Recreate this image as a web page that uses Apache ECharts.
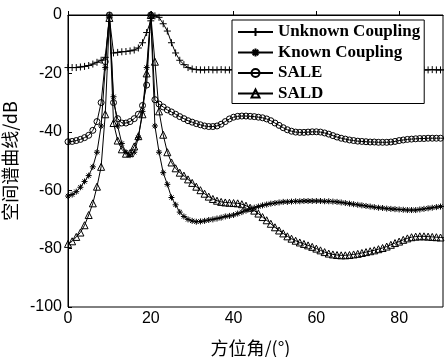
<!DOCTYPE html>
<html lang="zh">
<head>
  <meta charset="UTF-8">
  <title>空间谱曲线</title>
  <style>
    html, body { margin: 0; padding: 0; background: #fff; }
  </style>
</head>
<body>
  <div id="main" style="width: 446px; height: 357px"></div>
  <script src="https://cdn.jsdelivr.net/npm/echarts@6/dist/echarts.min.js"></script>
  <script>
    // 方位角采样点 (1° 步长)
    const angles = [
      0, 1, 2, 3, 4, 5, 6, 7, 8, 9, 10, 11, 12, 13, 14, 15, 16, 17, 18, 19,
      20, 21, 22, 23, 24, 25, 26, 27, 28, 29, 30, 31, 32, 33, 34, 35, 36, 37, 38, 39,
      40, 41, 42, 43, 44, 45, 46, 47, 48, 49, 50, 51, 52, 53, 54, 55, 56, 57, 58, 59,
      60, 61, 62, 63, 64, 65, 66, 67, 68, 69, 70, 71, 72, 73, 74, 75, 76, 77, 78, 79,
      80, 81, 82, 83, 84, 85, 86, 87, 88, 89, 90, 91
    ];

    const unknownCoupling = [
      -18, -18, -18, -17.8, -17.6, -17.3, -16.8, -16.2, -15.5, -14.5,
      -1, -13, -12.8, -12.6, -12.5, -12.3, -12, -11.3, -9.5, -6,
      -2, -0.3, -0.8, -3, -5.5, -9.5, -13, -15.5, -17, -18,
      -18.5, -18.7, -18.8, -18.8, -18.7, -18.8, -18.8, -18.7, -18.8, -18.8,
      -18.7, -18.8, -18.8, -18.7, -18.8, -18.8, -18.7, -18.8, -18.8, -18.7,
      -18.8, -18.8, -18.7, -18.8, -18.8, -18.7, -18.8, -18.8, -18.7, -18.8,
      -18.8, -18.7, -18.8, -18.8, -18.7, -18.8, -18.8, -18.7, -18.8, -18.8,
      -18.7, -18.8, -18.8, -18.7, -18.8, -18.8, -18.7, -18.8, -18.8, -18.7,
      -18.8, -18.8, -18.7, -18.8, -18.8, -18.7, -18.8, -18.8, -18.7, -18.8,
      -18.8, -18.8
    ];

    const knownCoupling = [
      -62, -61.5, -60.5, -59, -57, -55, -52, -47, -38, -18,
      0, -28, -38, -44, -47, -48, -47, -42, -33, -18,
      0, -38, -47, -54, -58, -62.5, -65, -67.5, -69, -70,
      -70.5, -70.8, -70.7, -70.5, -70.2, -70, -69.7, -69.4, -69, -68.8,
      -68.5, -68, -67.5, -67, -66.5, -66, -65.6, -65.2, -64.9, -64.6,
      -64.4, -64.2, -64, -64, -63.9, -63.8, -63.8, -63.7, -63.7, -63.7,
      -63.7, -63.7, -63.8, -63.8, -63.9, -64, -64.2, -64.4, -64.6, -64.8,
      -65, -65.2, -65.4, -65.6, -65.8, -66, -66.1, -66.3, -66.4, -66.5,
      -66.6, -66.7, -66.8, -66.8, -66.8, -66.6, -66.4, -66.2, -66, -65.8,
      -65.6, -65.5
    ];

    const sale = [
      -43.4, -43.3, -43, -42.6, -42, -41.2, -39.5, -36.5, -30, -16,
      0, -30, -35.5, -37, -37, -36.5, -35.5, -34, -31, -24,
      0, -29, -30.5, -31.5, -32.5, -33.2, -34, -34.8, -35.5, -36.2,
      -36.7, -37.2, -37.6, -38, -38.2, -38.2, -38, -37.4, -36.5, -35.6,
      -35, -34.7, -34.6, -34.6, -34.7, -34.8, -35, -35.2, -35.6, -36.2,
      -37, -37.8, -38.6, -39.3, -39.8, -40.1, -40.2, -40.2, -40.1, -40,
      -40, -40.1, -40.4, -40.8, -41.3, -41.8, -42.2, -42.5, -42.8, -43,
      -43.2, -43.3, -43.4, -43.5, -43.5, -43.6, -43.6, -43.6, -43.5, -43.3,
      -43, -42.8, -42.6, -42.5, -42.4, -42.3, -42.3, -42.2, -42.2, -42.2,
      -42.2, -42.2
    ];

    const sald = [
      -78.4, -77.5, -76, -74.5, -72, -68.5, -64.5, -58.8, -52, -34,
      -1, -37, -43, -46, -47.5, -47.3, -45, -41.5, -34, -20,
      0, -16, -33, -41, -47, -50.5, -52.5, -54, -55, -56.3,
      -57.5, -58.8, -60, -61.2, -62.2, -63, -63.6, -64, -64.2, -64.3,
      -64.4, -64.5, -64.8, -65.3, -66, -67, -68, -69.2, -70.3, -71.5,
      -72.7, -73.8, -74.8, -75.8, -76.6, -77.3, -77.9, -78.4, -78.9, -79.4,
      -80, -80.6, -81.2, -81.7, -82, -82.2, -82.3, -82.3, -82.2, -82,
      -81.8, -81.5, -81.2, -80.9, -80.6, -80.2, -79.8, -79.3, -78.7, -78.1,
      -77.6, -77, -76.5, -76.1, -75.9, -75.8, -75.8, -75.9, -76, -76.1,
      -76.2, -76.3
    ];

    const seriesNames = ['Unknown Coupling', 'Known Coupling', 'SALE', 'SALD'];
    const yTicks = [-100, -80, -60, -40, -20, 0];
    const xTicks = [0, 20, 40, 60, 80];

    function pairs(ys) {
      return angles.map((a, i) => [a, ys[i]]);
    }

    // 标记形状：+ 和 *
    const plusMark = 'path://M5,0L5,10M0,5L10,5';
    const starMark = 'path://M5,0L5,10M0,5L10,5M1.5,1.5L8.5,8.5M8.5,1.5L1.5,8.5';

    function lineSeries(name, ys, symbol, size) {
      return {
        name: name,
        type: 'line',
        data: pairs(ys),
        symbol: symbol,
        symbolSize: size,
        showAllSymbol: true,
        lineStyle: { color: '#000', width: 1 },
        itemStyle: { color: 'transparent', borderColor: '#000', borderWidth: 1 },
        emphasis: { disabled: true }
      };
    }

    const myChart = echarts.init(document.getElementById('main'));
    const option = {
      animation: false,
      backgroundColor: '#fff',
      grid: {
        left: 68, right: 3, top: 15, bottom: 50,
        outerBoundsMode: 'none',
        containLabel: false,
        show: true, borderColor: '#000', borderWidth: 1
      },
      legend: {
        orient: 'vertical',
        left: 232, top: 20,
        padding: [3, 4, 1, 5],
        itemWidth: 35, itemHeight: 10, itemGap: 2.5,
        borderColor: '#000', borderWidth: 1,
        backgroundColor: '#fff',
        data: seriesNames,
        textStyle: {
          fontFamily: 'Liberation Serif', fontSize: 17, fontWeight: 'bold',
          color: '#000', lineHeight: 18
        }
      },
      xAxis: {
        type: 'value',
        min: 0, max: 90.6, interval: 20,
        name: '方位角/(°)',
        nameLocation: 'middle',
        nameGap: 32,
        nameTextStyle: { fontFamily: 'Noto Sans CJK SC', fontSize: 18, color: '#000', padding: [0, 10, 0, 0] },
        axisLine: { lineStyle: { color: '#000', width: 1 } },
        axisTick: { inside: true, length: 4, lineStyle: { color: '#000' } },
        axisLabel: {
          margin: 4, color: '#000', fontFamily: 'Liberation Sans', fontSize: 16,
          showMaxLabel: false,
          formatter: v => (xTicks.includes(v) ? String(v) : '')
        },
        splitLine: { show: false }
      },
      yAxis: {
        type: 'value',
        min: -100, max: 0, interval: 20,
        name: '空间谱曲线/dB',
        nameLocation: 'middle',
        nameGap: 40,
        nameTextStyle: { fontFamily: 'Noto Sans CJK SC', fontSize: 18, color: '#000' },
        axisLine: { lineStyle: { color: '#000', width: 1 } },
        axisTick: { inside: true, length: 4, lineStyle: { color: '#000' } },
        axisLabel: {
          margin: 6, color: '#000', fontFamily: 'Liberation Sans', fontSize: 16,
          formatter: v => (yTicks.includes(v) ? String(v) : '')
        },
        splitLine: { show: false }
      },
      series: [
        lineSeries(seriesNames[0], unknownCoupling, plusMark, 7),
        lineSeries(seriesNames[1], knownCoupling, starMark, 6),
        lineSeries(seriesNames[2], sale, 'circle', 6),
        lineSeries(seriesNames[3], sald, 'triangle', 7)
      ]
    };
    myChart.setOption(option);
  </script>
</body>
</html>
